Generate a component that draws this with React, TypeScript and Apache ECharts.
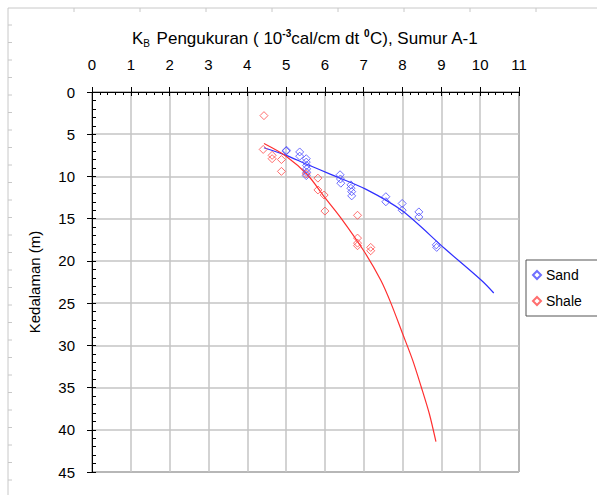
import React, { useEffect, useRef } from "react";
import * as echarts from "echarts";

// Sand measurements: K_B (10^-3 cal/cm dt °C) vs depth (m)
const sandK = [5.0, 5.01, 5.35, 5.35, 5.52, 5.52, 5.53, 5.53, 5.53, 5.52, 6.39, 6.4, 6.41, 6.67, 6.67, 6.69, 6.69, 7.57, 7.57, 7.99, 7.99, 8.42, 8.42, 8.87, 8.88];
const sandDepth = [7.0, 6.9, 7.1, 7.6, 7.9, 8.3, 8.7, 9.1, 9.5, 9.9, 9.8, 10.3, 10.8, 11.0, 11.4, 11.8, 12.3, 12.4, 13.0, 13.2, 14.0, 14.2, 14.8, 18.1, 18.4];

// Shale measurements
const shaleK = [4.43, 4.41, 4.64, 4.64, 4.88, 4.88, 5.52, 5.82, 5.82, 5.98, 6.0, 6.84, 6.84, 6.84, 6.84, 7.18, 7.18];
const shaleDepth = [2.8, 6.8, 7.5, 7.9, 8.0, 9.4, 9.7, 10.2, 11.6, 12.2, 14.1, 14.6, 17.3, 17.9, 18.2, 18.4, 18.8];

// Trend lines
const sandTrendK = [4.43, 5.0, 5.5, 6.15, 7.05, 8.0, 9.1, 10.03, 10.35];
const sandTrendDepth = [6.6, 7.5, 8.5, 9.75, 11.5, 14.1, 18.6, 22.3, 23.8];
const shaleTrendK = [4.43, 5.0, 5.55, 6.0, 6.41, 7.0, 7.44, 7.7, 8.0, 8.26, 8.48, 8.69, 8.86];
const shaleTrendDepth = [6.1, 7.6, 9.8, 12.5, 14.9, 18.8, 22.3, 25.0, 28.6, 31.75, 34.9, 38.1, 41.4];

const xMin = 0, xMax = 11, xInterval = 1;
const yMin = 0, yMax = 45, yInterval = 5;

const seriesNames = ["Sand", "Shale"];
const yAxisName = "Kedalaman (m)";

const FONT = "'Liberation Sans', Arial, sans-serif";

function pairs(xs: number[], ys: number[]) {
  return xs.map((x, i) => [x, ys[i]]);
}

export default function App() {
  const ref = useRef<HTMLDivElement>(null);
  useEffect(() => {
    if (!ref.current) return;
    const chart = echarts.init(ref.current, null, { renderer: "svg" });

    const frame: any[] = [
      { type: "line", shape: { x1: 8, y1: 8, x2: 8, y2: 495 }, style: { stroke: "#c8c8c8", lineWidth: 1 }, silent: true },
      { type: "line", shape: { x1: 8, y1: 8, x2: 597, y2: 8 }, style: { stroke: "#c8c8c8", lineWidth: 1 }, silent: true },
    ];
    for (let y = 25; y < 495; y += 17.5) {
      frame.push({ type: "line", shape: { x1: 8, y1: y, x2: 12, y2: y }, style: { stroke: "#c8c8c8", lineWidth: 1 }, silent: true });
    }
    for (let x = 74; x < 597; x += 66) {
      frame.push({ type: "line", shape: { x1: x, y1: 8, x2: x, y2: 12 }, style: { stroke: "#c8c8c8", lineWidth: 1 }, silent: true });
    }

    const axisCommonX = { type: "value", min: xMin, max: xMax, interval: xInterval, position: "top" };
    const axisCommonY = { type: "value", min: yMin, max: yMax, interval: yInterval, inverse: true, position: "left" };

    chart.setOption({
      animation: false,
      backgroundColor: "#ffffff",
      textStyle: { fontFamily: FONT },
      grid: { left: 92, top: 92, right: 78, bottom: 23, show: true, borderColor: "#222", borderWidth: 1, backgroundColor: "transparent" },
      legend: {
        data: seriesNames,
        orient: "vertical",
        left: 526,
        top: 260,
        padding: [8, 20, 8, 6],
        itemGap: 12,
        itemWidth: 8,
        itemHeight: 8,
        borderColor: "#555",
        borderWidth: 1,
        textStyle: { fontSize: 14, color: "#000", fontFamily: FONT },
      },
      xAxis: [
        {
          ...axisCommonX,
          axisLine: { show: true, lineStyle: { color: "#000", width: 1 } },
          axisTick: { show: true, inside: false, length: 5, lineStyle: { color: "#000" } },
          axisLabel: { fontSize: 15, color: "#000", margin: 20, fontFamily: FONT },
          splitLine: { show: true, lineStyle: { color: "#c4c4c4", width: 1.5 } },
        },
        {
          ...axisCommonX,
          axisLine: { show: false },
          axisTick: { show: true, inside: true, length: 4, lineStyle: { color: "#000" } },
          minorTick: { show: true, splitNumber: 5, length: 3, lineStyle: { color: "#000" } },
          axisLabel: { show: false },
          splitLine: { show: false },
        },
      ],
      yAxis: [
        {
          ...axisCommonY,
          name: yAxisName,
          nameLocation: "middle",
          nameGap: 50,
          nameRotate: 90,
          nameTextStyle: { fontSize: 15, color: "#000", fontFamily: FONT },
          axisLine: { show: true, lineStyle: { color: "#000", width: 1 } },
          axisTick: { show: true, inside: false, length: 5, lineStyle: { color: "#000" } },
          axisLabel: { fontSize: 15, color: "#000", margin: 17, fontFamily: FONT },
          splitLine: { show: true, lineStyle: { color: "#c4c4c4", width: 1.5 } },
        },
        {
          ...axisCommonY,
          axisLine: { show: false },
          axisTick: { show: true, inside: true, length: 4, lineStyle: { color: "#000" } },
          minorTick: { show: true, splitNumber: 5, length: 4, lineStyle: { color: "#000" } },
          axisLabel: { show: false },
          splitLine: { show: false },
        },
      ],
      graphic: [
        ...frame,
        {
          type: "text",
          x: 305,
          y: 38,
          silent: true,
          style: {
            text: "{a|K}{sub|B}{a| Pengukuran ( 10}{sup|-3}{a|cal/cm dt }{sup|0}{a|C), Sumur A-1}",
            align: "center",
            verticalAlign: "middle",
            fill: "#000",
            rich: {
              a: { fontSize: 17, fontFamily: FONT, fill: "#000", lineHeight: 20, verticalAlign: "middle" },
              sub: { fontSize: 10, fontFamily: FONT, fill: "#000", lineHeight: 12, verticalAlign: "bottom", padding: [0, 2, 0, 0] },
              sup: { fontSize: 10, fontFamily: FONT, fill: "#000", lineHeight: 12, verticalAlign: "top", fontWeight: "bold" },
            },
          },
        },
      ],
      series: [
        {
          name: seriesNames[0],
          type: "scatter",
          xAxisIndex: 0,
          yAxisIndex: 0,
          symbol: "diamond",
          symbolSize: 8,
          itemStyle: { color: "rgba(0,0,0,0)", borderColor: "#4a4aff", borderWidth: 1 },
          data: pairs(sandK, sandDepth),
          z: 3,
        },
        {
          name: seriesNames[1],
          type: "scatter",
          xAxisIndex: 0,
          yAxisIndex: 0,
          symbol: "diamond",
          symbolSize: 8,
          itemStyle: { color: "rgba(0,0,0,0)", borderColor: "#ff4a4a", borderWidth: 1 },
          data: pairs(shaleK, shaleDepth),
          z: 3,
        },
        {
          name: "Sand trend",
          type: "line",
          xAxisIndex: 0,
          yAxisIndex: 0,
          showSymbol: false,
          smooth: 0.3,
          lineStyle: { color: "#2f2fff", width: 1.2 },
          data: pairs(sandTrendK, sandTrendDepth),
          z: 2,
        },
        {
          name: "Shale trend",
          type: "line",
          xAxisIndex: 0,
          yAxisIndex: 0,
          showSymbol: false,
          smooth: 0.3,
          lineStyle: { color: "#ff2f2f", width: 1.2 },
          data: pairs(shaleTrendK, shaleTrendDepth),
          z: 2,
        },
      ],
    });
    return () => chart.dispose();
  }, []);

  return (
    <div
      ref={ref}
      style={{ position: "absolute", left: 0, top: 0, width: 597, height: 495, background: "#fff" }}
    />
  );
}
